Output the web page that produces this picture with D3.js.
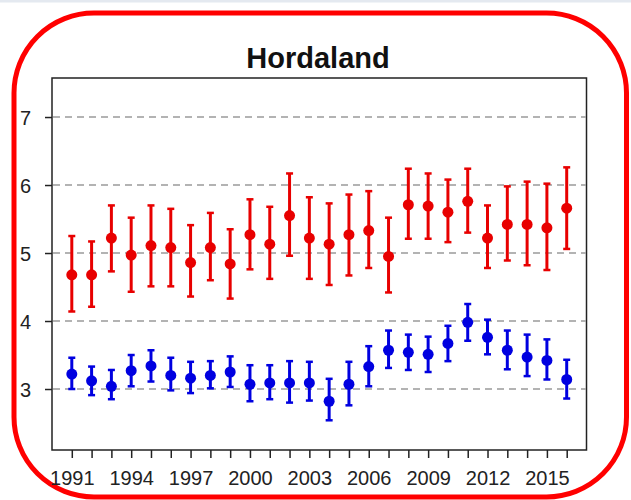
<!DOCTYPE html>
<html>
<head>
<meta charset="utf-8">
<script src="https://cdn.jsdelivr.net/npm/d3@7"></script>
<style>
  body { margin: 0; background: #fff; }
  text { font-family: "Liberation Sans", Arial, sans-serif; fill: #222; }
</style>
</head>
<body>
<div id="wrapper"></div>
<script>
// data
const years = d3.range(1991, 2017);
const redMean = [4.68, 4.68, 5.22, 4.97, 5.11, 5.08, 4.86, 5.08, 4.84, 5.27, 5.13, 5.55, 5.22,
  5.13, 5.27, 5.33, 4.95, 5.71, 5.69, 5.60, 5.76, 5.22, 5.42, 5.42, 5.37, 5.66];
const redLow = [4.14, 4.21, 4.73, 4.43, 4.51, 4.51, 4.36, 4.60, 4.33, 4.76, 4.62, 4.96, 4.62,
  4.53, 4.67, 4.78, 4.42, 5.21, 5.21, 5.16, 5.30, 4.78, 4.89, 4.82, 4.75, 5.06];
const redHigh = [5.25, 5.17, 5.70, 5.52, 5.70, 5.65, 5.41, 5.59, 5.35, 5.79, 5.68, 6.17, 5.82,
  5.73, 5.86, 5.91, 5.52, 6.24, 6.17, 6.08, 6.24, 5.70, 5.98, 6.05, 6.02, 6.26];
const blueMean = [3.22, 3.12, 3.04, 3.27, 3.34, 3.20, 3.16, 3.20, 3.25, 3.07, 3.09, 3.09, 3.09,
  2.82, 3.07, 3.33, 3.57, 3.54, 3.51, 3.67, 3.98, 3.76, 3.57, 3.47, 3.42, 3.14];
const blueLow = [3.00, 2.91, 2.85, 3.04, 3.11, 2.98, 2.94, 3.01, 3.03, 2.82, 2.85, 2.80, 2.83,
  2.54, 2.76, 3.04, 3.31, 3.28, 3.25, 3.41, 3.71, 3.51, 3.29, 3.19, 3.14, 2.86];
const blueHigh = [3.46, 3.33, 3.28, 3.50, 3.57, 3.46, 3.40, 3.41, 3.48, 3.35, 3.35, 3.41, 3.40,
  3.15, 3.40, 3.63, 3.86, 3.80, 3.77, 3.93, 4.25, 4.02, 3.86, 3.80, 3.73, 3.43];
const yTicks = [3, 4, 5, 6, 7];
const xLabelYears = [1991, 1994, 1997, 2000, 2003, 2006, 2009, 2012, 2015];

const width = 631, height = 500;
const plot = { left: 52, right: 586.5, top: 78, bottom: 450 };

const svg = d3.select("#wrapper").append("svg")
  .attr("width", width)
  .attr("height", height);

// strip at the very top and the rounded red frame
svg.append("rect").attr("x", 0).attr("y", 0).attr("width", width).attr("height", 2.5)
  .attr("fill", "#e4e9f0");
svg.append("rect")
  .attr("x", 14).attr("y", 13)
  .attr("width", 612.5).attr("height", 484)
  .attr("rx", 80).attr("ry", 80)
  .attr("fill", "none")
  .attr("stroke", "#ff0000")
  .attr("stroke-width", 5);

const xScale = d3.scaleLinear().domain([1990, 2017]).range([plot.left, plot.right]);
const yScale = d3.scaleLinear().domain([2.103, 7.574]).range([plot.bottom, plot.top]);

// grid
svg.append("g").selectAll("line")
  .data(yTicks)
  .join("line")
  .attr("x1", plot.left + 1).attr("x2", plot.right - 1)
  .attr("y1", d => yScale(d)).attr("y2", d => yScale(d))
  .attr("stroke", "#9a9a9a")
  .attr("stroke-width", 1.5)
  .attr("stroke-dasharray", "7,5");

// axes
const xAxis = svg.append("g")
  .attr("transform", `translate(0,${plot.bottom})`)
  .call(d3.axisBottom(xScale).tickValues(years).tickSize(8).tickSizeOuter(0)
    .tickFormat(d => xLabelYears.includes(d) ? d : ""));
xAxis.select(".domain").remove();
xAxis.selectAll(".tick line").attr("stroke", "#222").attr("stroke-width", 1.5);
xAxis.selectAll(".tick text").attr("font-size", 20).attr("dy", 0).attr("y", 35);

const yAxis = svg.append("g")
  .attr("transform", `translate(${plot.left},0)`)
  .call(d3.axisLeft(yScale).tickValues(yTicks).tickSize(7).tickSizeOuter(0)
    .tickFormat(d3.format("d")));
yAxis.select(".domain").remove();
yAxis.selectAll(".tick line").attr("stroke", "#222").attr("stroke-width", 1.5);
yAxis.selectAll(".tick text").attr("font-size", 20).attr("x", -21).attr("dy", "0.36em");
svg.selectAll(".tick text").style("font-family", "'Liberation Sans', Arial, sans-serif").attr("fill", "#222");

// plot frame
svg.append("rect")
  .attr("x", plot.left).attr("y", plot.top)
  .attr("width", plot.right - plot.left).attr("height", plot.bottom - plot.top)
  .attr("fill", "none")
  .attr("stroke", "#222")
  .attr("stroke-width", 1.5);

// title
svg.append("text")
  .attr("x", 318).attr("y", 68)
  .attr("text-anchor", "middle")
  .attr("font-size", 29)
  .attr("font-weight", "bold")
  .style("fill", "#111")
  .text("Hordaland");

// error bars with points
function drawSeries(mean, low, high, color) {
  const rows = years.map((y, i) => ({ year: y, mean: mean[i], low: low[i], high: high[i] }));
  const g = svg.append("g");
  g.selectAll(".bar").data(rows).join("line")
    .attr("x1", d => xScale(d.year)).attr("x2", d => xScale(d.year))
    .attr("y1", d => yScale(d.low)).attr("y2", d => yScale(d.high))
    .attr("stroke", color).attr("stroke-width", 3);
  g.selectAll(".capTop").data(rows).join("line")
    .attr("x1", d => xScale(d.year) - 3.5).attr("x2", d => xScale(d.year) + 3.5)
    .attr("y1", d => yScale(d.high)).attr("y2", d => yScale(d.high))
    .attr("stroke", color).attr("stroke-width", 2.5);
  g.selectAll(".capBottom").data(rows).join("line")
    .attr("x1", d => xScale(d.year) - 3.5).attr("x2", d => xScale(d.year) + 3.5)
    .attr("y1", d => yScale(d.low)).attr("y2", d => yScale(d.low))
    .attr("stroke", color).attr("stroke-width", 2.5);
  g.selectAll("circle").data(rows).join("circle")
    .attr("cx", d => xScale(d.year)).attr("cy", d => yScale(d.mean))
    .attr("r", 5.5)
    .attr("fill", color);
}

drawSeries(redMean, redLow, redHigh, "#e80000");
drawSeries(blueMean, blueLow, blueHigh, "#0000e0");
</script>
</body>
</html>
